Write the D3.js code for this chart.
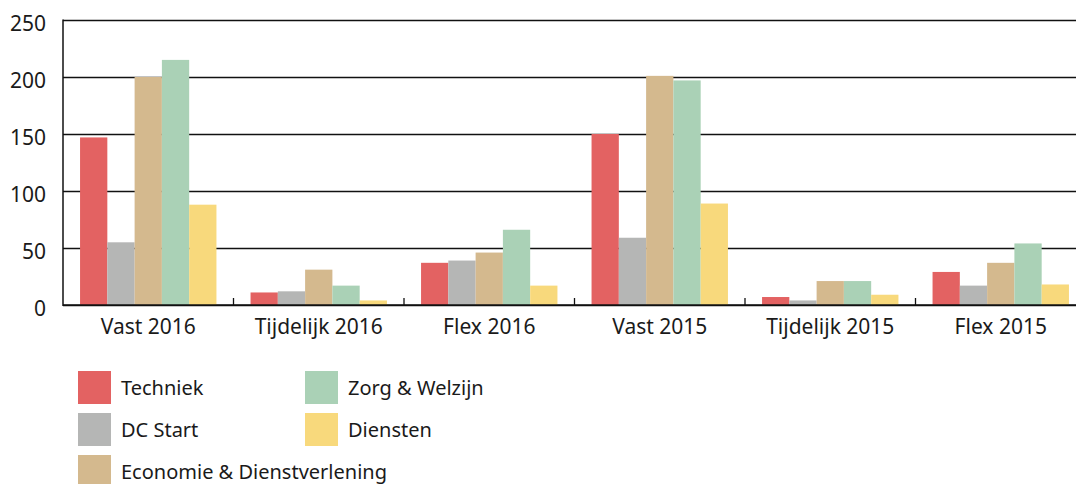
<!DOCTYPE html>
<html>
<head>
<meta charset="utf-8">
<script src="https://cdn.jsdelivr.net/npm/d3@7"></script>
<style>
  body { margin: 0; background: #fff; }
  text { font-family: "Noto Sans", sans-serif; fill: #1a1a1a; }
</style>
</head>
<body>
<script>
var width = 1076,
    height = 484

// data
var categories = ["Vast 2016", "Tijdelijk 2016", "Flex 2016", "Vast 2015", "Tijdelijk 2015", "Flex 2015"];
var series = ["Techniek", "DC Start", "Economie & Dienstverlening", "Zorg & Welzijn", "Diensten"];
var techniek = [147, 11, 37, 150, 7, 29];
var dcStart = [55, 12, 39, 59, 4, 17];
var economie = [200, 31, 46, 201, 21, 37];
var zorg = [215, 17, 66, 197, 21, 54];
var diensten = [88, 4, 17, 89, 9, 18];
var yTicks = [0, 50, 100, 150, 200, 250];
var colors = ["#e36262", "#b5b6b5", "#d4b98e", "#aad1b6", "#f8d97c"];

var values = [techniek, dcStart, economie, zorg, diensten];

var svg = d3.select("body")
    .append("svg")
    .attr("width", width)
    .attr("height", height);

var x = d3.scaleBand()
    .domain(categories)
    .range([63, 1086])
    .paddingInner(0.2)
    .paddingOuter(0.1);

var xInner = d3.scaleBand()
    .domain(series)
    .range([0, x.bandwidth()]);

var y = d3.scaleLinear()
    .domain([0, 250])
    .range([305, 20]);

// gridlines + y labels
var yAxis = svg.append("g")
    .attr("transform", "translate(63,0)")
    .call(d3.axisLeft(y).tickValues(yTicks).tickSize(-(width - 63)).tickPadding(17));
yAxis.select(".domain").remove();
yAxis.selectAll("line").attr("stroke", "#111").attr("stroke-width", 1.3);
yAxis.selectAll("text")
    .style("font-size", "21px")
    .attr("fill", "#1a1a1a")
    .attr("dy", "0.5em");

// bars
var groups = svg.append("g")
    .selectAll("g")
    .data(categories)
    .enter()
    .append("g")
    .attr("transform", function(d) { return "translate(" + x(d) + ",0)"; });

groups.selectAll("rect")
    .data(function(d, i) {
        return series.map(function(s, j) { return {key: s, value: values[j][i], idx: j}; });
    })
    .enter()
    .append("rect")
    .attr("x", function(d) { return xInner(d.key); })
    .attr("y", function(d) { return y(d.value); })
    .attr("width", xInner.bandwidth())
    .attr("height", function(d) { return y(0) - y(d.value); })
    .attr("fill", function(d) { return colors[d.idx]; });

// y axis line
svg.append("line")
    .attr("x1", 63).attr("x2", 63)
    .attr("y1", 19.5).attr("y2", 306)
    .attr("stroke", "#111")
    .attr("stroke-width", 1.5);

// x axis
var xAxis = svg.append("g")
    .attr("transform", "translate(0,305)")
    .call(d3.axisBottom(x).tickSize(0).tickPadding(10));
xAxis.select(".domain").remove();
xAxis.selectAll("text")
    .style("font-size", "21px")
    .attr("fill", "#1a1a1a")
    .attr("dy", "0.9em");

svg.append("line")
    .attr("x1", 63).attr("x2", width)
    .attr("y1", 305).attr("y2", 305)
    .attr("stroke", "#111")
    .attr("stroke-width", 1.5);

// boundary ticks between categories
svg.append("g")
    .selectAll("line")
    .data(categories.slice(1))
    .enter()
    .append("line")
    .attr("x1", function(d) { return x(d) - x.step() * 0.1; })
    .attr("x2", function(d) { return x(d) - x.step() * 0.1; })
    .attr("y1", 298)
    .attr("y2", 305)
    .attr("stroke", "#111")
    .attr("stroke-width", 1.3);

// legend
var legendPos = [[78, 371], [78, 413], [78, 455], [305, 371], [305, 413]];
var legend = svg.append("g")
    .selectAll("g")
    .data(series)
    .enter()
    .append("g")
    .attr("transform", function(d, i) { return "translate(" + legendPos[i][0] + "," + legendPos[i][1] + ")"; });

legend.append("rect")
    .attr("width", 33)
    .attr("height", 33)
    .attr("fill", function(d, i) { return colors[i]; });

legend.append("text")
    .attr("x", 43)
    .attr("y", 24)
    .style("font-size", "20px")
    .text(function(d) { return d; });
</script>
</body>
</html>
